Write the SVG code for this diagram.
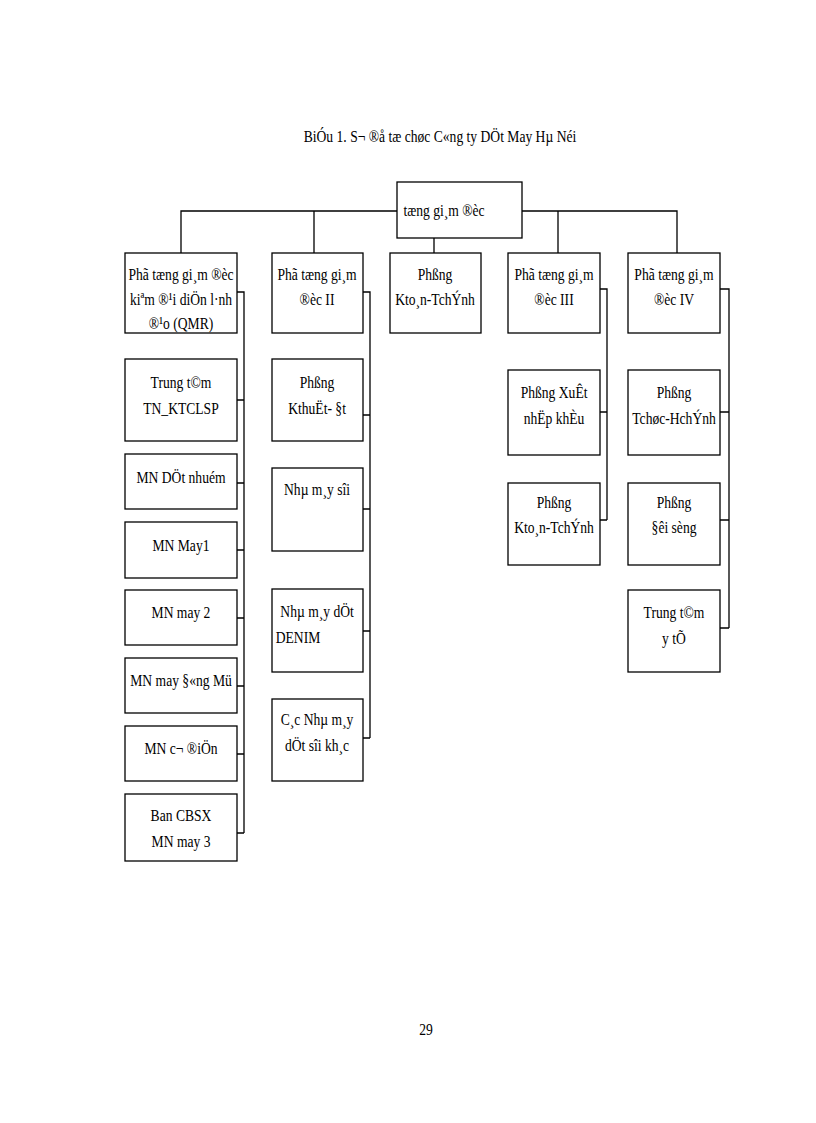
<svg xmlns="http://www.w3.org/2000/svg" width="816" height="1123" viewBox="0 0 816 1123">
<style>
rect{fill:#fff;stroke:#000;stroke-width:1.3}
.c{fill:none;stroke:#000;stroke-width:1.3}
text{font-family:"Liberation Serif",serif;font-size:17px;fill:#000;text-anchor:middle;transform-box:fill-box;transform-origin:center;transform:scaleX(0.8)}
</style>
<rect x="0" y="0" width="816" height="1123" style="stroke:none"/>
<text x="440" y="142" font-size="20">BiÓu 1. S¬ ®å tæ chøc C«ng ty DÖt May Hµ Néi</text>
<g id="connectors">
<path class="c" d="M181 253V211H397M522 211H677V253M314 211V253M558 211V253M434 238V253"/>
<path class="c" d="M237 292H244V833M237 400H244M237 483H244M237 550H244M237 618H244M237 686H244M237 754H244M237 833H244"/>
<path class="c" d="M363 292H370V738M363 415H370M363 509H370M363 631H370M363 738H370"/>
<path class="c" d="M600 289H607V520M600 412H607M600 520H607"/>
<path class="c" d="M720 289H729V628M720 412H729M720 520H729M720 628H729"/>
</g>
<g id="n0"><rect x="397" y="182" width="125" height="56"/><text x="444" y="216" font-size="20">tæng gi¸m ®èc</text></g>
<g id="n1"><rect x="125" y="253" width="112" height="80"/><text x="181" y="280">Phã tæng gi¸m ®èc</text><text x="181" y="305">kiªm ®¹i diÖn l·nh</text><text x="181" y="329">®¹o (QMR)</text></g>
<g id="n2"><rect x="272" y="253" width="91" height="80"/><text x="317" y="280">Phã tæng gi¸m</text><text x="317" y="305">®èc II</text></g>
<g id="n3"><rect x="390" y="253" width="91" height="80"/><text x="435" y="280">Phßng</text><text x="435" y="305">Kto¸n-TchÝnh</text></g>
<g id="n4"><rect x="508" y="253" width="92" height="80"/><text x="554" y="280">Phã tæng gi¸m</text><text x="554" y="305">®èc III</text></g>
<g id="n5"><rect x="628" y="253" width="92" height="80"/><text x="674" y="280">Phã tæng gi¸m</text><text x="674" y="305">®èc IV</text></g>
<g id="n6"><rect x="125" y="359" width="112" height="82"/><text x="181" y="388">Trung t©m</text><text x="181" y="414">TN_KTCLSP</text></g>
<g id="n7"><rect x="125" y="454" width="112" height="55"/><text x="181" y="483">MN DÖt nhuém</text></g>
<g id="n8"><rect x="125" y="522" width="112" height="56"/><text x="181" y="551">MN May1</text></g>
<g id="n9"><rect x="125" y="590" width="112" height="55"/><text x="181" y="618">MN may 2</text></g>
<g id="n10"><rect x="125" y="658" width="112" height="55"/><text x="181" y="686">MN may §«ng Mü</text></g>
<g id="n11"><rect x="125" y="726" width="112" height="55"/><text x="181" y="754">MN c¬ ®iÖn</text></g>
<g id="n12"><rect x="125" y="794" width="112" height="67"/><text x="181" y="821">Ban CBSX</text><text x="181" y="847">MN may 3</text></g>
<g id="n13"><rect x="272" y="359" width="91" height="82"/><text x="317" y="388">Phßng</text><text x="317" y="414">KthuËt- §t</text></g>
<g id="n14"><rect x="272" y="468" width="91" height="83"/><text x="317" y="495">Nhµ m¸y sîi</text></g>
<g id="n15"><rect x="272" y="589" width="91" height="83"/><text x="317" y="617">Nhµ m¸y dÖt</text><text x="298" y="643">DENIM</text></g>
<g id="n16"><rect x="272" y="699" width="91" height="82"/><text x="317" y="725">C¸c Nhµ m¸y</text><text x="317" y="751">dÖt sîi kh¸c</text></g>
<g id="n17"><rect x="508" y="370" width="92" height="85"/><text x="554" y="398">Phßng XuÊt</text><text x="554" y="424">nhËp khÈu</text></g>
<g id="n18"><rect x="508" y="483" width="92" height="82"/><text x="554" y="508">Phßng</text><text x="554" y="533">Kto¸n-TchÝnh</text></g>
<g id="n19"><rect x="628" y="370" width="92" height="85"/><text x="674" y="398">Phßng</text><text x="674" y="424">Tchøc-HchÝnh</text></g>
<g id="n20"><rect x="628" y="483" width="92" height="82"/><text x="674" y="508">Phßng</text><text x="674" y="533">§êi sèng</text></g>
<g id="n21"><rect x="628" y="590" width="92" height="82"/><text x="674" y="618">Trung t©m</text><text x="674" y="644">y tÕ</text></g>
<text x="426" y="1035" font-size="20">29</text>
</svg>
